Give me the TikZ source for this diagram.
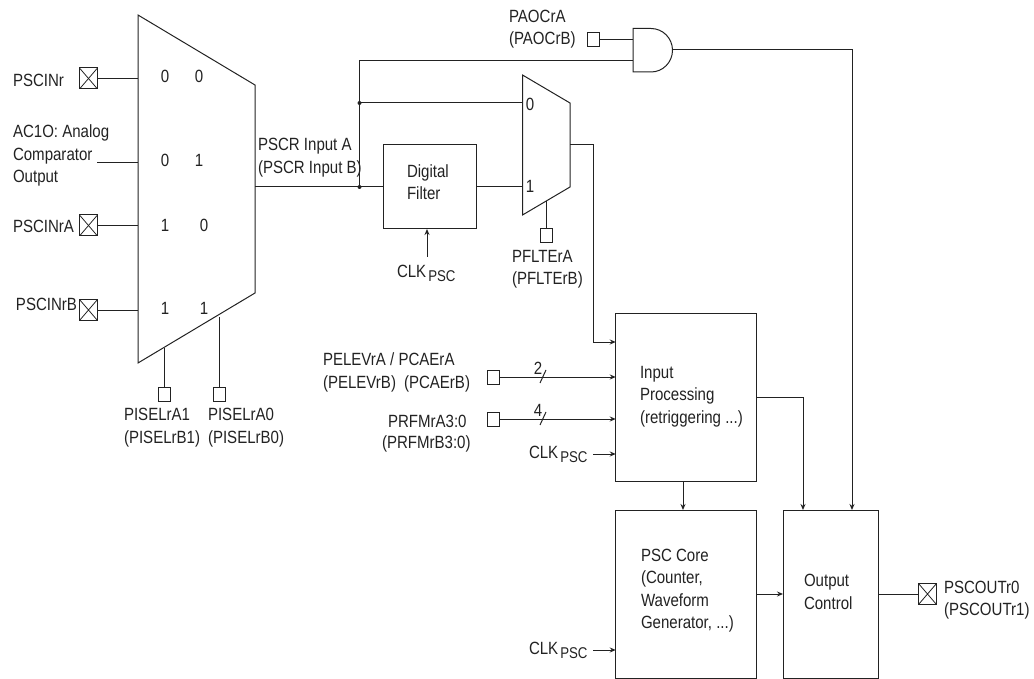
\documentclass[tikz,border=0pt]{standalone}
\usepackage{fontspec}
\setmainfont[FakeStretch=0.85]{Liberation Sans}
\usetikzlibrary{arrows.meta}
\definecolor{ink}{HTML}{222222}
\newcommand{\clkpsc}{CLK\hspace{2pt}\raisebox{-4pt}{\fontsize{15.6}{18}\selectfont PSC}}
\tikzset{
  wire/.style={draw=ink,line width=1pt},
  flow/.style={wire,-{Stealth[length=6pt,width=5pt]}},
  lab/.style={anchor=west,inner sep=0pt,outer sep=0pt,align=left,text=ink,font=\fontsize{17.7}{22.5}\selectfont},
  ctr/.style={inner sep=0pt,outer sep=0pt,text=ink,font=\fontsize{17.7}{22.5}\selectfont},
  block/.style={draw=ink,line width=1pt,rectangle,inner sep=0pt,outer sep=0pt},
  pad/.style={block,minimum width=12pt,minimum height=14pt},
  xpad/.style={block,minimum width=18pt,minimum height=21pt,
    path picture={\draw[ink,line width=.8pt] (path picture bounding box.south west)--(path picture bounding box.north east)
      (path picture bounding box.north west)--(path picture bounding box.south east);}},
  dot/.style={circle,fill=ink,inner sep=0pt,minimum size=4pt},
}
\begin{document}
\begin{tikzpicture}[x=1pt,y=-1pt]
\useasboundingbox (0,0) rectangle (1034,679);
% big multiplexer
\coordinate (m1) at (138,15); \coordinate (m2) at (255,85); \coordinate (m3) at (255,293); \coordinate (m4) at (138,363);
\draw[block] (m1)--(m2)--(m3)--(m4)--cycle;
\foreach \t/\x/\y in {0/165/76,0/199/76,0/165/160,1/199/160,1/165/225,0/204/225,1/165/308,1/204/308}
  \node[ctr] at (\x,\y) {\t};
% left inputs
\node[lab] at (13,80) {PSCINr};
\node[xpad] (pr) at (88.5,78.5) {};
\draw[wire] (pr.east) -- (pr.east -| m1);
\node[lab] (ac) at (13,155.5) {AC1O: Analog\\Comparator\\Output};
\coordinate (acend) at (97,162.5);
\draw[wire] (acend) -- (acend -| m1);
\node[lab] at (13,226) {PSCINrA};
\node[xpad] (pa) at (88.5,225.5) {};
\draw[wire] (pa.east) -- (pa.east -| m1);
\node[lab] at (16,304) {PSCINrB};
\node[xpad] (pb) at (88.5,310) {};
\draw[wire] (pb.east) -- (pb.east -| m1);
% selects
\node[pad] (s1) at (164,394) {};
\node[pad] (s0) at (219.5,394) {};
\coordinate (s1t) at (164,347.5); \coordinate (s0t) at (219.5,317);
\draw[wire] (s1t) -- (s1.north);
\draw[wire] (s0t) -- (s0.north);
\node[lab] at (124,427.5) {PISELrA1\\(PISELrB1)};
\node[lab] at (208,427.5) {PISELrA0\\(PISELrB0)};
% fork
\node[lab] at (258,157.5) {PSCR Input A\\(PSCR Input B)};
\coordinate (mo) at (255,187);
\node[dot] (d1) at (359.5,187) {};
\node[dot] (d2) at (359.5,103) {};
\node[block,minimum width=93pt,minimum height=84pt] (df) at (429.5,187) {};
\node[lab] at (407,182) {Digital\\Filter};
\draw[wire] (mo) -- (df.west);
\coordinate (mx1) at (522.5,75); \coordinate (mx2) at (570,103); \coordinate (mx3) at (570,187); \coordinate (mx4) at (522.5,215);
\draw[block] (mx1)--(mx2)--(mx3)--(mx4)--cycle;
\node[ctr] at (530,104) {0};
\node[ctr] at (530,186) {1};
\draw[wire] (d2.center) -- (d2 -| mx1);
\draw[wire] (df.east) -- (df.east -| mx1);
\node[pad] (fs) at (546,236) {};
\coordinate (fst) at (546,201);
\draw[wire] (fst) -- (fs.north);
\node[lab] at (512,269) {PFLTErA\\(PFLTErB)};
\coordinate (dfclk) at (427,257);
\draw[flow] (dfclk) -- (df.south -| dfclk);
\node[ctr,anchor=west] at (397,273) {\clkpsc};
% AND gate
\coordinate (g1) at (633,28.5); \coordinate (g2) at (633,72);
\draw[block] (g1) -- (651,28.5) arc[start angle=90,end angle=-90,x radius=21.5,y radius=-21.75] -- (g2) -- cycle;
\coordinate (gin) at (633,40); \coordinate (gin2) at (633,61); \coordinate (gout) at (672.5,50);
\node[lab] at (509,29) {PAOCrA\\(PAOCrB)};
\node[pad] (pc) at (593,40) {};
\draw[wire] (pc.east) -- (gin);
\draw[wire] (d1.center) -- (d1 |- gin2) -- (gin2);
% blocks
\node[block,minimum width=140.5pt,minimum height=168.5pt] (ip) at (686,397.5) {};
\node[lab] at (640,396.5) {Input\\Processing\\(retriggering ...)};
\node[block,minimum width=140.5pt,minimum height=168pt] (core) at (686,594) {};
\node[lab] at (641,590.5) {PSC Core\\(Counter,\\Waveform\\Generator, ...)};
\node[block,minimum width=95pt,minimum height=168pt] (oc) at (830.5,594) {};
\node[lab] at (804,592) {Output\\Control};
\node[xpad] (po) at (927.5,594) {};
\node[lab] at (944,600) {PSCOUTr0\\(PSCOUTr1)};
% routes
\coordinate (mxo) at (570,145);
\draw[flow] (mxo) -- (593,145) -- (593,342) -- (ip.west |- 0,342);
\draw[flow] (gout) -- (852,50) -- (oc.north -| 852,0);
\draw[flow] (ip.east) -- (803,397.5) -- (oc.north -| 803,0);
\draw[flow] (ip.south -| 683,0) -- (core.north -| 683,0);
\draw[flow] (core.east) -- (oc.west);
\draw[wire] (oc.east) -- (po.west);
% inputs of Input Processing
\node[lab] at (323,372.5) {PELEVrA / PCAErA\\(PELEVrB)\hspace{8pt}(PCAErB)};
\node[lab] at (388,421) {PRFMrA3:0};
\node[lab] at (382,444) {(PRFMrB3:0)};
\node[pad] (e2) at (493.5,377) {};
\node[pad] (e4) at (493.5,419) {};
\draw[flow] (e2.east) -- (e2.east -| ip.west);
\draw[flow] (e4.east) -- (e4.east -| ip.west);
\foreach \n/\y in {2/377,4/419}{
  \draw[wire] (540,\y+6) -- (546,\y-7);
  \node[ctr] at (538,\y-9) {\n};
}
\node[ctr,anchor=west] (c1) at (529,454) {\clkpsc};
\coordinate (c1s) at (593,454);
\draw[flow] (c1s) -- (c1s -| ip.west);
\node[ctr,anchor=west] (c2) at (529,650) {\clkpsc};
\coordinate (c2s) at (593,650);
\draw[flow] (c2s) -- (c2s -| core.west);
\end{tikzpicture}
\end{document}
